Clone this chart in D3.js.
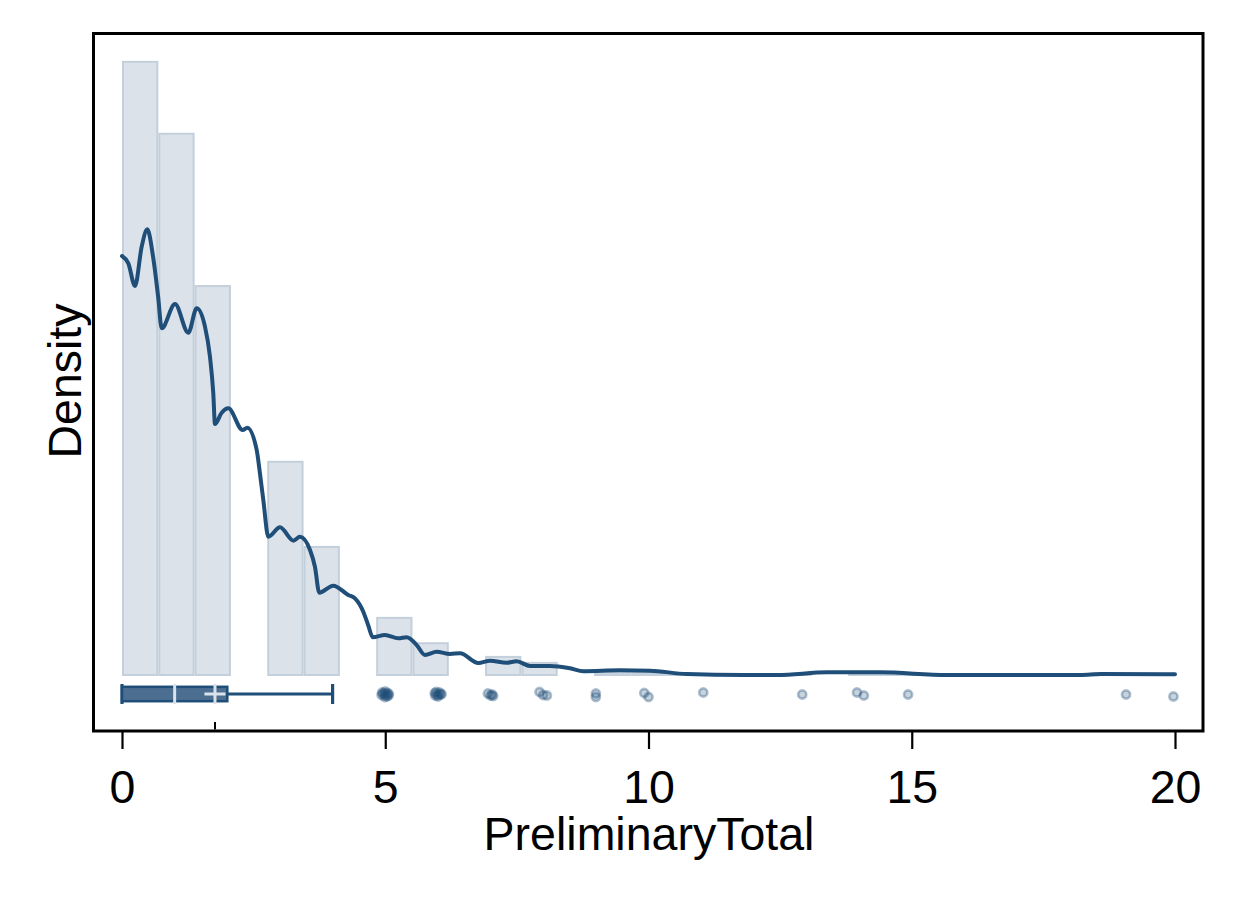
<!DOCTYPE html>
<html><head><meta charset="utf-8">
<script src="https://cdn.jsdelivr.net/npm/d3@7"></script>
<style>
body{margin:0;background:#fff;}
svg{display:block;}
text{font-family:"Liberation Sans",Arial,Helvetica,sans-serif;}
</style>
</head><body>
<svg id="chart" width="1237" height="899"></svg>
<script>
// ---------- data ----------
const xTicks = [0, 5, 10, 15, 20];
const xLabel = "PreliminaryTotal";
const yLabel = "Density";

const binWidth = 20 / 29;
const binLow = [0, 0.6897, 1.3793, 2.7586, 3.4483, 4.8276, 5.5172, 6.8966, 7.5862,
                8.9655, 9.6552, 10.3448, 12.4138, 13.7931, 14.4828, 18.6207, 19.3103];
const binDensity = [0.4400, 0.3884, 0.2791, 0.1530, 0.0919, 0.0410, 0.0228, 0.0130, 0.0087,
                    0.0016, 0.0013, 0.0007, 0.0006, 0.0011, 0.0006, 0.0006, 0.0007];

const kdeX = [0, 0.12, 0.247, 0.374, 0.48, 0.59, 0.686, 0.754, 1.007, 1.259, 1.419, 1.576, 1.671, 1.734,
              1.766, 1.89, 2.019, 2.292, 2.38, 2.558, 2.62, 2.684, 2.779, 3.001, 3.254, 3.381, 3.571,
              3.665, 3.747, 4.013, 4.298, 4.425, 4.583, 4.678, 4.762, 4.995, 5.248, 5.407, 5.597,
              5.755, 5.977, 6.23, 6.42, 6.767, 6.99, 7.307, 7.497, 7.749, 8.129, 8.509, 8.762,
              9.459, 10.028, 10.725, 11.8, 12.45, 13.4, 14.4, 15.67, 18.2, 18.6, 20];
const kdeY = [0.3007, 0.2954, 0.2792, 0.3074, 0.3198, 0.3002, 0.2716, 0.2488, 0.2662, 0.2456, 0.2632, 0.2500, 0.2284, 0.2021,
              0.1801, 0.1880, 0.1914, 0.1758, 0.1775, 0.1615, 0.1447, 0.1256, 0.0993, 0.1060, 0.0964, 0.0992, 0.0897,
              0.0776, 0.0591, 0.0641, 0.0574, 0.0550, 0.0454, 0.0355, 0.0271, 0.0287, 0.0263, 0.0271, 0.0215,
              0.0144, 0.0167, 0.0151, 0.0156, 0.0086, 0.0103, 0.0088, 0.0098, 0.0065, 0.0065, 0.0048, 0.0027,
              0.0034, 0.0031, 0.0007, 0.0, 0.0, 0.0019, 0.0019, 0.0, 0.0, 0.0007, 0.0005];

// box plot statistics
const boxStats = {q1: 0, median: 1, q3: 2, mean: 1.766, lo: 0, hi: 4};

// outside values and their vertical jitter (-1..1)
const outX = [4.94, 5.0, 5.06, 4.97, 5.03, 5.0, 4.93, 5.07, 4.99, 5.04,
              5.94, 6.0, 6.05, 5.97, 6.07, 6.0, 5.95, 6.03,
              6.95, 7.0, 7.05, 7.03,
              7.93, 8.0, 8.07,
              9.0, 9.0,
              9.92, 10.0,
              11.04, 12.92, 13.96, 14.09, 14.93, 19.07, 19.97];
const outJ = [-0.15, 0.05, 0.15, -0.05, 0.25, -0.25, 0.1, 0.0, 0.3, -0.1,
              -0.1, 0.1, 0.05, -0.2, 0.0, 0.25, 0.15, -0.15,
              -0.05, 0.15, 0.2, 0.05,
              -0.2, 0.1, 0.15,
              -0.05, 0.3,
              -0.1, 0.3,
              -0.15, 0.05, -0.15, 0.15, 0.05, 0.05, 0.25];

// ---------- styles ----------
const C_LINE = "#1f4e79";
const C_BAR = "#dce2ea";
const C_BAR_STROKE = "#c3cfdb";

const svg = d3.select("#chart");
const frame = {left: 93.5, top: 33.5, right: 1203, bottom: 731};

const x = d3.scaleLinear().domain([0, 20]).range([122, 1175]);
const y = d3.scaleLinear().domain([0, 0.46]).range([675, 34]);
const yRow = d3.scaleLinear().domain([-1, 1]).range([684, 704]);

// histogram
svg.append("g").selectAll("rect")
  .data(binLow.map((b, i) => ({lo: b, hi: b + binWidth, d: binDensity[i]})))
  .join("rect")
  .attr("x", d => x(d.lo) + 1)
  .attr("width", d => x(d.hi) - x(d.lo) - 2)
  .attr("y", d => y(d.d))
  .attr("height", d => y(0) - y(d.d))
  .attr("fill", C_BAR)
  .attr("stroke", C_BAR_STROKE)
  .attr("stroke-width", 2);

// kde
const line = d3.line().x(d => x(d[0])).y(d => y(d[1])).curve(d3.curveMonotoneX);
svg.append("path")
  .datum(kdeX.map((v, i) => [v, kdeY[i]]))
  .attr("d", line)
  .attr("fill", "none")
  .attr("stroke", C_LINE)
  .attr("stroke-width", 4)
  .attr("stroke-linejoin", "round")
  .attr("stroke-linecap", "round");

// box plot
const bp = svg.append("g");
bp.append("line")
  .attr("x1", x(boxStats.q3)).attr("x2", x(boxStats.hi))
  .attr("y1", yRow(0)).attr("y2", yRow(0))
  .attr("stroke", C_LINE).attr("stroke-width", 3);
[boxStats.lo, boxStats.hi].forEach(v => {
  bp.append("line")
    .attr("x1", x(v)).attr("x2", x(v))
    .attr("y1", yRow(-1)).attr("y2", yRow(1))
    .attr("stroke", C_LINE).attr("stroke-width", 3.2);
});
bp.append("rect")
  .attr("x", x(boxStats.q1)).attr("width", x(boxStats.q3) - x(boxStats.q1))
  .attr("y", yRow(-0.72)).attr("height", yRow(0.72) - yRow(-0.72))
  .attr("fill", "#4b6e91")
  .attr("stroke", C_LINE).attr("stroke-width", 2.5);
bp.append("line")
  .attr("x1", x(boxStats.median)).attr("x2", x(boxStats.median))
  .attr("y1", yRow(-1)).attr("y2", yRow(1))
  .attr("stroke", C_BAR).attr("stroke-width", 3);
// mean marker "+"
bp.append("line")
  .attr("x1", x(boxStats.mean - 0.2)).attr("x2", x(boxStats.mean + 0.2))
  .attr("y1", yRow(0)).attr("y2", yRow(0))
  .attr("stroke", C_BAR).attr("stroke-width", 3);
bp.append("line")
  .attr("x1", x(boxStats.mean)).attr("x2", x(boxStats.mean))
  .attr("y1", yRow(-1)).attr("y2", yRow(1))
  .attr("stroke", C_BAR).attr("stroke-width", 3);

// outside values
svg.append("g").selectAll("circle")
  .data(outX.map((v, i) => [v, outJ[i]]))
  .join("circle")
  .attr("cx", d => x(d[0]))
  .attr("cy", d => yRow(d[1]))
  .attr("r", 4.1)
  .attr("fill", C_LINE).attr("fill-opacity", 0.25)
  .attr("stroke", C_LINE).attr("stroke-opacity", 0.35).attr("stroke-width", 2.6);

// frame
svg.append("rect")
  .attr("x", frame.left).attr("y", frame.top)
  .attr("width", frame.right - frame.left).attr("height", frame.bottom - frame.top)
  .attr("fill", "none").attr("stroke", "#000").attr("stroke-width", 3);

// x axis
const ax = svg.append("g")
  .attr("transform", `translate(0,${frame.bottom})`)
  .call(d3.axisBottom(x).tickValues(xTicks).tickFormat(d3.format("d")).tickSize(18).tickPadding(21));
ax.select(".domain").remove();
ax.selectAll(".tick line").attr("stroke", "#000").attr("stroke-width", 2.2);
ax.selectAll(".tick text").attr("fill", "#000").style("font-size", "46.5px");

// mean tick on axis
svg.append("line")
  .attr("x1", x(boxStats.mean)).attr("x2", x(boxStats.mean))
  .attr("y1", frame.bottom - 1.5).attr("y2", frame.bottom - 9)
  .attr("stroke", "#000").attr("stroke-width", 2);

// axis titles
svg.append("text")
  .attr("x", 649).attr("y", 850)
  .attr("text-anchor", "middle")
  .style("font-size", "46.5px").attr("fill", "#000")
  .text(xLabel);
svg.append("text")
  .attr("transform", "translate(81,381) rotate(-90)")
  .attr("text-anchor", "middle")
  .style("font-size", "46.5px").attr("fill", "#000")
  .text(yLabel);
</script>
</body></html>
